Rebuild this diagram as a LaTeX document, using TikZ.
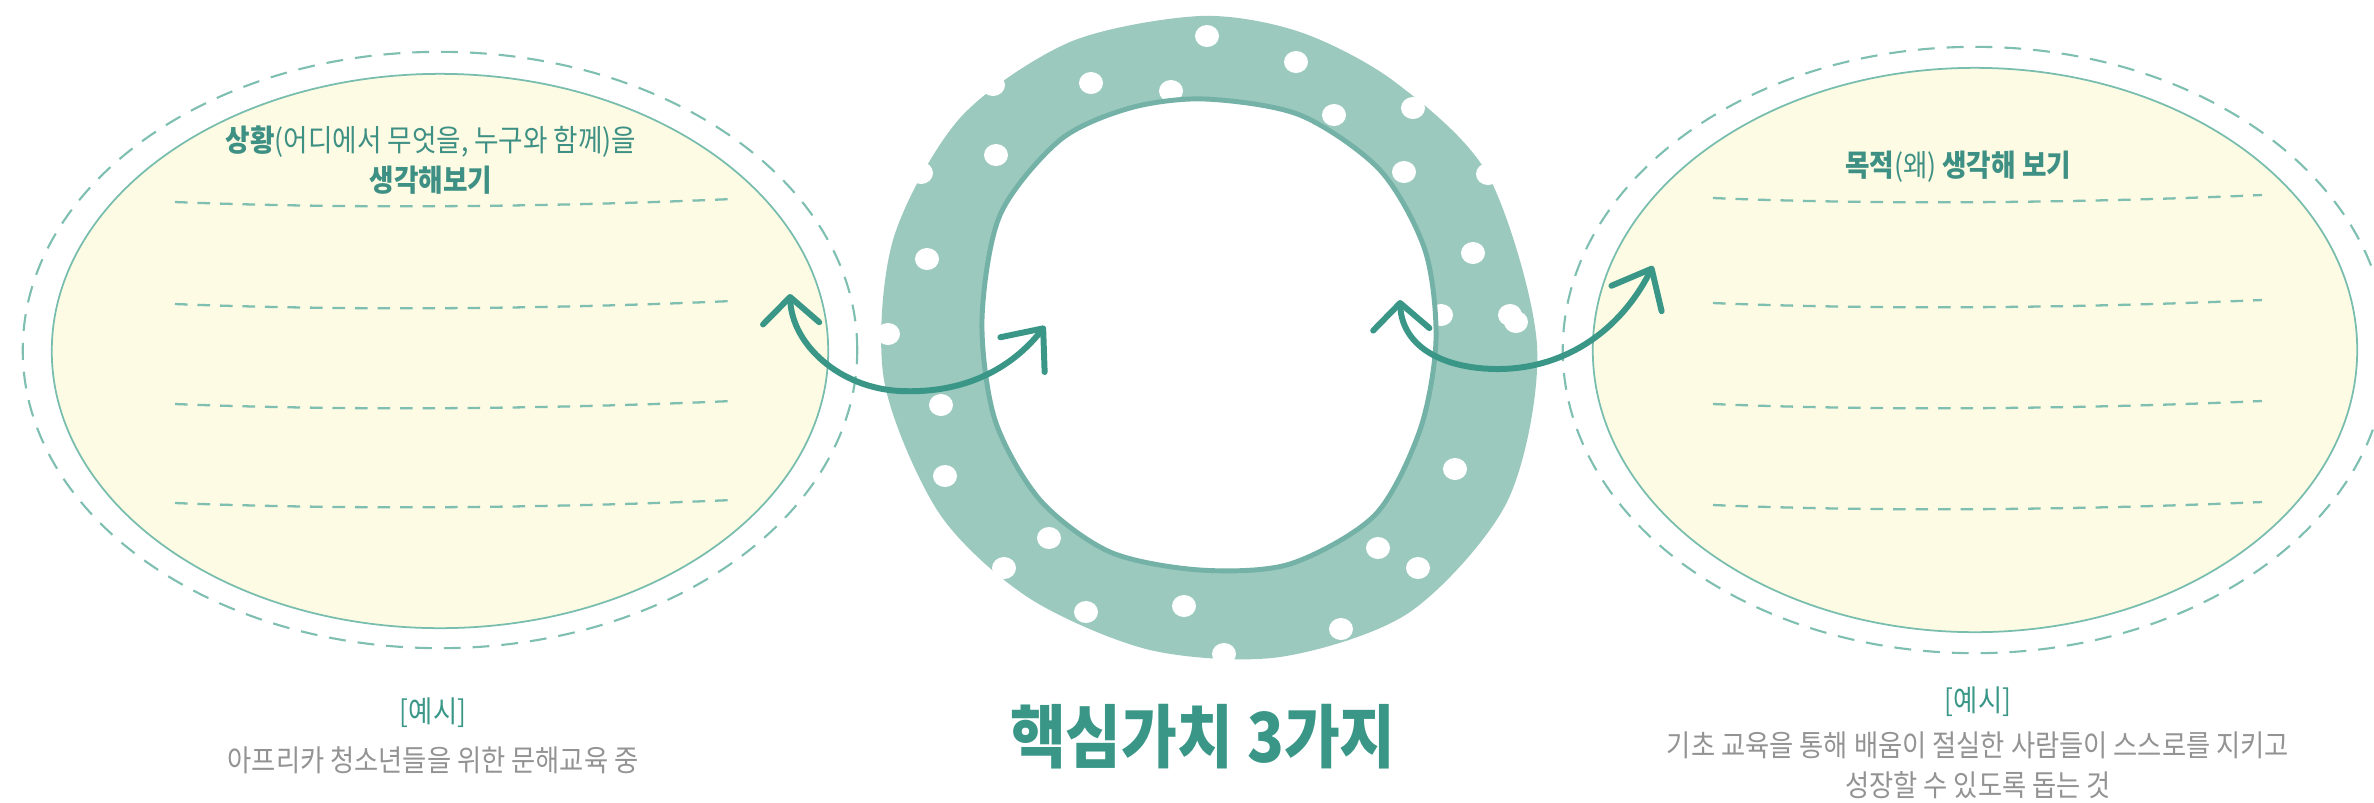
\documentclass[tikz,border=0pt]{standalone}
\usepackage{fontspec}
\setmainfont{Noto Sans CJK KR}[FakeStretch=0.88]
\usetikzlibrary{arrows.meta,shapes.geometric}
\definecolor{coreteal}{HTML}{3A9788}
\definecolor{headteal}{HTML}{3F9084}
\definecolor{ringfill}{HTML}{9CC9BE}
\definecolor{ringline}{HTML}{74B1A6}
\definecolor{bubblefill}{HTML}{FDFBE3}
\definecolor{bubbleline}{HTML}{78BDAE}
\definecolor{guideline}{HTML}{7EBFB1}
\definecolor{notegray}{HTML}{939393}
\tikzset{
  bubble/.style={
    ellipse,
    draw=bubbleline,
    fill=bubblefill,
    line width=0.5pt,
    inner sep=0pt
  },
  halo/.style={
    ellipse,
    draw=guideline,
    line width=0.6pt,
    dash pattern=on 4.8pt off 3.4pt,
    inner sep=0pt
  },
  writeline/.style={
    draw=guideline,
    line width=0.65pt,
    dash pattern=on 3.6pt off 2.8pt
  },
  flow/.style={
    draw=coreteal,
    line width=1.7pt,
    line cap=round,
    {Straight Barb[length=7.5pt,width=16pt,round]}-{Straight Barb[length=9.5pt,width=16pt,round]}
  },
  heading/.style={text=headteal, font=\fontsize{8.6}{11.4}\selectfont, align=center, inner sep=0pt},
  tag/.style={text=coreteal, font=\fontsize{8.5}{11.4}\selectfont, inner sep=0pt},
  note/.style={text=notegray, font=\fontsize{8.5}{11.4}\selectfont, align=center, inner sep=0pt}
}

\begin{document}
\begin{tikzpicture}[x=0.01cm, y=-0.01cm]
  \useasboundingbox (0,0) rectangle (2374,802);

  \node[halo, minimum width=8.34cm, minimum height=5.96cm] (lefthalo) at (440,350) {};
  \node[bubble, minimum width=7.76cm, minimum height=5.54cm] (situation) at (440,351) {};
  \node[halo, minimum width=8.24cm, minimum height=6.06cm] (righthalo) at (1975,350) {};
  \node[bubble, minimum width=7.64cm, minimum height=5.64cm] (purpose) at (1975,350) {};

  \foreach \y in {202,304,404,503}
    \draw[writeline] (175,\y) .. controls (350,\y+7) and (550,\y+5) .. (732,\y-3);
  \foreach \y in {198,303,404,505}
    \draw[writeline] (1713,\y) .. controls (1880,\y+7) and (2080,\y+5) .. (2262,\y-3);

  \node[heading] (situationtitle) at (431,160)
    {\textbf{상황}(어디에서 무엇을, 누구와 함께)을\\\textbf{생각해보기}};
  \node[heading] (purposetitle) at (1958,167) {\textbf{목적}(왜) \textbf{생각해 보기}};

  \fill[ringfill] plot[smooth cycle] coordinates {
    (1200,16) (1300,32) (1395,82) (1488,175) (1537,345) (1508,500) (1410,612)
    (1280,657) (1150,650) (1029,598) (939,513) (884,380) (893,240) (960,118) (1070,42)};
  \foreach \x/\y in {1207/36, 1296/62, 1091/83, 1171/91, 993/85, 1334/115, 1413/108,
      996/155, 921/173, 1404/172, 1488/174, 927/259, 1473/253, 888/334, 1441/315,
      1510/315, 1516/322, 941/405, 945/476, 1455/469, 1049/538, 1378/548, 1004/568,
      1418/568, 1086/612, 1184/606, 1341/629, 1224/654}
    \fill[white] (\x,\y) ellipse [x radius=12, y radius=11];
  \draw[ringline, line width=1.4pt, fill=white] plot[smooth cycle, tension=0.5] coordinates {
    (1205,99) (1300,115) (1380,170) (1425,250) (1436,340) (1420,430) (1375,515)
    (1290,564) (1200,570) (1110,552) (1040,500) (995,420) (982,320) (1000,215)
    (1060,140) (1130,108)};

  \coordinate (leftfrom) at (790,294);
  \coordinate (leftto) at (1045,326);
  \coordinate (rightfrom) at (1400,300);
  \coordinate (rightto) at (1653,266);
  \draw[flow] (leftfrom) .. controls (792,345) and (840,388) .. (900,391)
    .. controls (965,394) and (1012,368) .. (leftto);
  \draw[flow] (rightfrom) .. controls (1402,345) and (1440,368) .. (1495,369)
    .. controls (1560,370) and (1618,335) .. (rightto);

  \node[font=\bfseries\fontsize{19.6}{23}\selectfont, text=coreteal] (core) at (1203,737) {핵심가치 3가지};

  \node[tag] (lefttag) at (433,713) {[예시]};
  \node[note] (leftnote) at (433,760) {아프리카 청소년들을 위한 문해교육 중};
  \node[tag] (righttag) at (1978,702) {[예시]};
  \node[note] (rightnote) at (1978,765)
    {기초 교육을 통해 배움이 절실한 사람들이 스스로를 지키고\\성장할 수 있도록 돕는 것};
\end{tikzpicture}
\end{document}
